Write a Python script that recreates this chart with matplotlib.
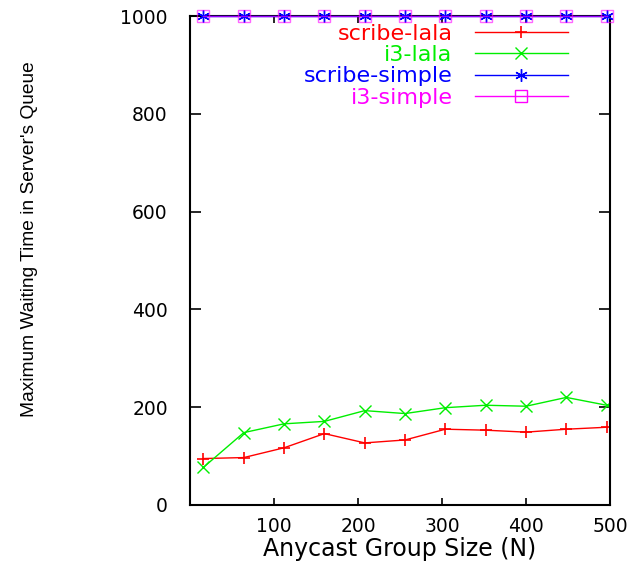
import matplotlib
matplotlib.use("Agg")
import matplotlib.pyplot as plt

# data
group_size = [16, 64, 112, 160, 208, 256, 304, 352, 400, 448, 496]
scribe_lala = [95, 97, 117, 146, 127, 133, 155, 153, 149, 155, 159]
i3_lala = [77, 148, 166, 171, 193, 187, 199, 204, 202, 220, 204]
scribe_simple = [1000, 1000, 1000, 1000, 1000, 1000, 1000, 1000, 1000, 1000, 1000]
i3_simple = [1000, 1000, 1000, 1000, 1000, 1000, 1000, 1000, 1000, 1000, 1000]
x_ticks = [100, 200, 300, 400, 500]
y_ticks = [0, 200, 400, 600, 800, 1000]

fig = plt.figure(figsize=(6.44, 5.71), dpi=100)
ax = fig.add_axes([190/644, 1-505/571, 420/644, 489/571])

tick_font = dict(family=["DejaVu Sans"], size=13.5)

l1, = ax.plot(group_size, scribe_lala, color="#ff0000", lw=1.0, marker="+", ms=9, mew=1.2,
              label="scribe-lala")
l2, = ax.plot(group_size, i3_lala, color="#00ee00", lw=1.0, marker="x", ms=9, mew=1.0,
              label="i3-lala")
l3, = ax.plot(group_size, scribe_simple, color="#0000ff", lw=1.0, marker=(6, 2, 0), ms=9, mew=1.0,
              label="scribe-simple", clip_on=False, zorder=4)
l4, = ax.plot(group_size, i3_simple, color="#ff00ff", lw=1.0, marker="s", ms=8, mew=1.0,
              mfc="none", label="i3-simple", clip_on=False, zorder=5)

ax.set_xlim(0, 500)
ax.set_ylim(0, 1000)
ax.set_xticks(x_ticks)
ax.set_xticklabels([str(v) for v in x_ticks], **tick_font)
ax.set_yticks(y_ticks)
ax.set_yticklabels([str(v) for v in y_ticks], **tick_font)
ax.tick_params(axis="both", which="both", direction="in", top=True, right=True, width=1.2)
ax.tick_params(axis="x", length=5, pad=9)
ax.tick_params(axis="y", length=8, pad=16)
for s in ax.spines.values():
    s.set_linewidth(1.5)

ax.set_xlabel("Anycast Group Size (N)", family=["DejaVu Sans"], size=17)
ax.xaxis.set_label_coords(0.5, -0.09)
ax.xaxis.label.set_va("center")
ax.set_ylabel("Maximum Waiting Time in Server's Queue",
              family=["Liberation Sans"], size=13.8)
ax.yaxis.set_label_coords(-0.383, 0.544)
ax.yaxis.label.set_va("center")

leg = ax.legend(loc="upper right", bbox_to_anchor=(0.9, 0.984), frameon=False,
                markerfirst=False, labelcolor="linecolor", handlelength=4.2,
                handletextpad=1.0, labelspacing=0.06, borderpad=0, borderaxespad=0,
                prop=dict(family="DejaVu Sans", size=16))

# blend the overlapping top lines toward purple (after legend creation)
l4.set_alpha(0.6)

fig.savefig("out.png", dpi=100)
